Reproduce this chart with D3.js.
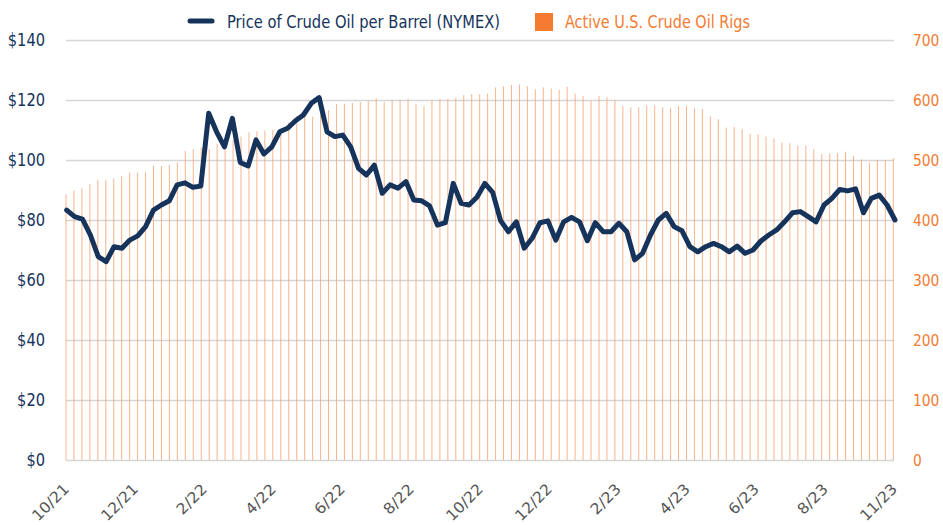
<!DOCTYPE html>
<html>
<head>
<meta charset="utf-8">
<script src="https://cdn.jsdelivr.net/npm/d3@7"></script>
<style>
  body { margin: 0; background: #fff; }
  svg { display: block; font-family: "DejaVu Sans Condensed", "Liberation Sans Narrow", sans-serif; }
</style>
</head>
<body>
<svg id="chart"></svg>
<script>
// Weekly values, Oct 2021 - Nov 2023
var rigs = [
  443, 449, 453, 460, 467, 467, 469, 473, 479, 479,
  480, 491, 490, 492, 496, 515, 518, 521, 518, 527,
  532, 534, 539, 546, 548, 549, 550, 551, 563, 573,
  576, 572, 576, 583, 593, 594, 595, 597, 598, 603,
  597, 600, 600, 602, 594, 590, 599, 602, 602, 603,
  608, 610, 610, 611, 621, 623, 625, 626, 623, 618,
  621, 619, 617, 622, 611, 607, 599, 607, 605, 600,
  590, 588, 588, 591, 591, 588, 587, 590, 590, 587,
  585, 573, 568, 554, 555, 551, 544, 543, 539, 536,
  529, 528, 524, 524, 518, 510, 511, 511, 514, 507,
  501, 496, 500, 500, 503
];

var price = [
  83.3, 81.1, 80.3, 75.0, 67.8, 66.1, 71.1, 70.6, 73.3, 74.7,
  77.8, 83.3, 85.0, 86.4, 91.7, 92.4, 90.9, 91.3, 115.6, 109.4,
  104.4, 113.9, 99.2, 98.0, 106.7, 102.0, 104.4, 109.4, 110.6, 113.1,
  115.0, 118.9, 120.8, 109.4, 107.8, 108.3, 104.4, 97.2, 95.0, 98.3,
  88.9, 91.7, 90.6, 92.8, 86.7, 86.4, 84.7, 78.3, 79.1, 92.2,
  85.6, 85.0, 87.6, 92.2, 89.2, 79.8, 76.1, 79.4, 70.6, 73.9,
  79.1, 79.7, 73.3, 79.4, 80.9, 79.4, 73.1, 79.1, 76.1, 76.1,
  78.9, 76.1, 66.7, 68.9, 75.0, 80.0, 82.2, 77.8, 76.4, 71.1,
  69.4, 71.1, 72.2, 71.1, 69.4, 71.3, 68.9, 70.0, 73.0, 75.0,
  76.7, 79.4, 82.4, 82.8, 81.1, 79.4, 85.0, 87.2, 90.2, 89.7,
  90.4, 82.4, 87.2, 88.3, 85.0, 80.0
];

var dateLabels = ['10/21', '12/21', '2/22', '4/22', '6/22', '8/22', '10/22',
  '12/22', '2/23', '4/23', '6/23', '8/23', '11/23'];

var priceTicks = [0, 20, 40, 60, 80, 100, 120, 140];
var rigTicks = [0, 100, 200, 300, 400, 500, 600, 700];

var legendItems = ['Price of Crude Oil per Barrel (NYMEX)', 'Active U.S. Crude Oil Rigs'];

var canvasWidth = 943;
var canvasHeight = 525;
var margin = { top: 40, right: 49, bottom: 65, left: 66 };
var width = canvasWidth - margin.left - margin.right;
var height = canvasHeight - margin.top - margin.bottom;

var navy = '#15335b';
var orange = '#f47b30';

var svg = d3.select('#chart')
  .attr('width', canvasWidth)
  .attr('height', canvasHeight);

var g = svg.append('g')
  .attr('transform', 'translate(' + margin.left + ',' + margin.top + ')');

// scales
var xLine = d3.scaleLinear().domain([0, price.length - 1]).range([0.7, width + 1]);
var xBar = d3.scaleLinear().domain([0, rigs.length - 1]).range([0, width - 0.7]);
var xLabels = d3.scalePoint().domain(dateLabels).range([0, width]);
var yPrice = d3.scaleLinear().domain([0, 140]).range([height, 0]);
var yRigs = d3.scaleLinear().domain([0, 700]).range([height, 0]);

// gridlines
g.append('g')
  .attr('class', 'grid')
  .call(d3.axisLeft(yPrice).tickValues(priceTicks).tickSize(-width).tickFormat(''))
  .call(function(s) {
    s.select('.domain').remove();
    s.selectAll('line').attr('stroke', '#d6d6d6').attr('stroke-width', 1.5);
  });

// rig bars
g.append('g')
  .selectAll('rect')
  .data(rigs)
  .enter()
  .append('rect')
  .attr('x', function(d, i) { return xBar(i) - 0.5; })
  .attr('y', function(d) { return yRigs(d); })
  .attr('width', 1)
  .attr('height', function(d) { return height - yRigs(d); })
  .attr('fill', '#f5a271')
  .attr('opacity', 0.8);

// price line
var line = d3.line()
  .x(function(d, i) { return xLine(i); })
  .y(function(d) { return yPrice(d); });

g.append('path')
  .datum(price)
  .attr('d', line)
  .attr('fill', 'none')
  .attr('stroke', navy)
  .attr('stroke-width', 5)
  .attr('stroke-linejoin', 'round')
  .attr('stroke-linecap', 'round');

// condensed look of the original type
function squeeze(charWidth, color, size) {
  return function(s) {
    s.select('.domain').remove();
    s.selectAll('text')
      .attr('fill', color)
      .attr('textLength', function() { return this.textContent.length * charWidth; })
      .attr('lengthAdjust', 'spacingAndGlyphs')
      .style('font-size', size + 'px')
      .style('font-family', '"DejaVu Sans Condensed", "Liberation Sans Narrow", sans-serif');
  };
}

// left axis
g.append('g')
  .call(d3.axisLeft(yPrice).tickValues(priceTicks).tickSize(0).tickPadding(21)
    .tickFormat(function(d) { return '$' + d; }))
  .call(squeeze(9.3, navy, 18));

// right axis
g.append('g')
  .attr('transform', 'translate(' + width + ',0)')
  .call(d3.axisRight(yRigs).tickValues(rigTicks).tickSize(0).tickPadding(19))
  .call(squeeze(8.8, orange, 16.5));

// x labels
g.append('g')
  .attr('transform', 'translate(0,' + height + ')')
  .selectAll('text')
  .data(dateLabels)
  .enter()
  .append('text')
  .attr('transform', function(d) {
    return 'translate(' + (xLabels(d) + 4) + ',30) rotate(-45)';
  })
  .attr('text-anchor', 'end')
  .attr('fill', '#555')
  .attr('textLength', function(d) { return d.length * 9; })
  .attr('lengthAdjust', 'spacingAndGlyphs')
  .style('font-size', '15px')
  .text(function(d) { return d; });

// legend
var legend = svg.append('g');
legend.append('line')
  .attr('x1', 190).attr('x2', 212)
  .attr('y1', 21).attr('y2', 21)
  .attr('stroke', navy)
  .attr('stroke-width', 5)
  .attr('stroke-linecap', 'round');
legend.append('text')
  .attr('x', 227).attr('y', 28)
  .attr('fill', navy)
  .attr('textLength', 273)
  .attr('lengthAdjust', 'spacingAndGlyphs')
  .style('font-size', '18px')
  .text(legendItems[0]);
legend.append('rect')
  .attr('x', 535).attr('y', 13)
  .attr('width', 18).attr('height', 18)
  .attr('fill', orange);
legend.append('text')
  .attr('x', 565).attr('y', 28)
  .attr('fill', orange)
  .attr('textLength', 185)
  .attr('lengthAdjust', 'spacingAndGlyphs')
  .style('font-size', '18px')
  .text(legendItems[1]);
</script>
</body>
</html>
